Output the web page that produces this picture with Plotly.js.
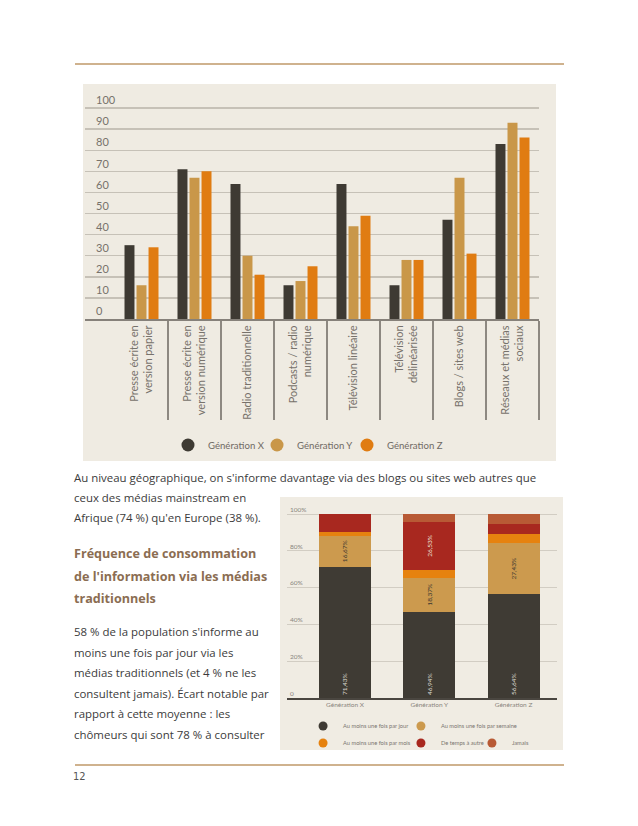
<!DOCTYPE html>
<html>
<head>
<meta charset="utf-8">
<script src="https://cdn.plot.ly/plotly-3.0.1.min.js"></script>
<style>
  html, body { margin:0; padding:0; background:#ffffff; width:638px; height:826px; overflow:hidden; }
  .abs { position:absolute; }
  .rule { position:absolute; background:#cfb28e; height:2px; }
  .txt { position:absolute; font-family:"Open Sans", sans-serif; color:#3b3b3b; white-space:nowrap; font-size:11.45px; }
  .head { position:absolute; font-family:"Open Sans", sans-serif; font-weight:700; color:#8b6d52; white-space:nowrap; font-size:12.6px; }
</style>
</head>
<body>
<div class="rule" style="left:75px; top:63px; width:489px;"></div>
<div id="chart1" class="abs" style="left:83px; top:84px; width:473px; height:377px;"></div>
<div class="txt" style="left:74px; top:468px; line-height:20px;">Au niveau géographique, on s'informe davantage via des blogs ou sites web autres que<br>ceux des médias mainstream en<br>Afrique (74 %) qu'en Europe (38 %).</div>
<div class="head" style="left:74px; top:543px; line-height:22.5px;">Fréquence de consommation<br>de l'information via les médias<br>traditionnels</div>
<div class="txt" style="left:74px; top:622px; line-height:20.6px;">58 % de la population s'informe au<br>moins une fois par jour via les<br>médias traditionnels (et 4 % ne les<br>consultent jamais). Écart notable par<br>rapport à cette moyenne : les<br>chômeurs qui sont 78 % à consulter</div>
<div id="chart2" class="abs" style="left:280px; top:497px; width:283px; height:253px;"></div>
<div class="rule" style="left:75px; top:764px; width:489px;"></div>
<div class="abs" style="left:73px; top:770px; font-family:'DejaVu Sans Condensed', sans-serif; font-size:11px; color:#555;">12</div>

<script>
// ---------- Chart 1 data ----------
const mediaCategories = [
  "Presse écrite en<br>version papier",
  "Presse écrite en<br>version numérique",
  "Radio traditionnelle",
  "Podcasts / radio<br>numérique",
  "Télévision linéaire",
  "Télévision<br>délinéarisée",
  "Blogs / sites web",
  "Réseaux et médias<br>sociaux"
];
const genNames = ["Génération X", "Génération Y", "Génération Z"];
const genXValues = [35, 71, 64, 16, 64, 16, 47, 83];
const genYValues = [16, 67, 30, 18, 44, 28, 67, 93];
const genZValues = [34, 70, 21, 25, 49, 28, 31, 86];
const yTicks1 = [0, 10, 20, 30, 40, 50, 60, 70, 80, 90, 100];

// ---------- Chart 2 data ----------
const generations = ["Génération X", "Génération Y", "Génération Z"];
const freqNames = ["Au moins une fois par jour", "Au moins une fois par semaine", "Au moins une fois par mois", "De temps à autre", "Jamais"];
const dailyValues   = [71.43, 46.94, 56.64];
const weeklyValues  = [16.67, 18.37, 27.43];
const monthlyValues = [2.38, 4.08, 4.87];
const sometimesValues = [9.52, 26.53, 5.75];
const neverValues   = [0, 4.08, 5.31];
const yTicks2 = [0, 20, 40, 60, 80, 100];
const yTickText2 = ["0", "20%", "40%", "60%", "80%", "100%"];

const c1Colors = ["#3e3a33", "#c99749", "#e07c12"];
const c2Colors = ["#3f3b34", "#cc9a4e", "#e6820f", "#a8281f", "#b85a35"];
const fmt = v => v.toFixed(2).replace(".", ",") + "%";
const chartFont = "Lato, 'Open Sans', sans-serif";
const legendId = i => i === 0 ? "legend" : "legend" + (i + 1);

// ---------- Chart 1 ----------
const series1 = [genXValues, genYValues, genZValues];
const traces1 = series1.map((vals, i) => ({
  type: "bar", x: mediaCategories, y: vals, name: genNames[i],
  marker: { color: c1Colors[i] }, showlegend: false, hoverinfo: "none"
}));
genNames.forEach((n, i) => traces1.push({
  type: "scatter", mode: "markers", x: [null], y: [null], name: n,
  marker: { color: c1Colors[i], size: 13, symbol: "circle" }, showlegend: true, hoverinfo: "none",
  legend: legendId(i)
}));

const layout1 = {
  width: 473, height: 377,
  margin: { l: 2, r: 17, t: 3, b: 142, autoexpand: false },
  paper_bgcolor: "#efebe2", plot_bgcolor: "#efebe2",
  barmode: "group", bargap: 0.32, bargroupgap: 0.17,
  font: { family: chartFont, color: "#77726b" },
  xaxis: {
    type: "category", range: [-1.066, 7.5],
    showline: true, linecolor: "#86817a", linewidth: 2,
    ticks: "outside", tickson: "boundaries", ticklen: 99, tickwidth: 1.5, tickcolor: "#8d8881",
    tickangle: -90, ticklabelstandoff: 0,
    tickfont: { size: 11, color: "#77726b", family: chartFont },
    showgrid: false, zeroline: false, fixedrange: true
  },
  yaxis: {
    range: [0, 110], tickvals: yTicks1, ticktext: yTicks1.map(String),
    ticklabelposition: "inside top", ticklabelstandoff: 8,
    tickfont: { size: 11, color: "#77726b", family: chartFont },
    showgrid: true, gridcolor: "#c6c1b7", gridwidth: 1.5,
    zeroline: false, showline: false, ticks: "", fixedrange: true
  },
  showlegend: true
};
const legX1 = [0.1828, 0.3789, 0.5771];
legX1.forEach((x, i) => {
  layout1[legendId(i)] = {
    orientation: "h", x: x, xanchor: "left", y: -0.543, yanchor: "middle", traceorder: "normal",
    font: { size: 9.6, color: "#6f6a64", family: chartFont }, bgcolor: "rgba(0,0,0,0)", itemsizing: "trace"
  };
});
Plotly.newPlot("chart1", traces1, layout1, { displayModeBar: false, staticPlot: true });

// ---------- Chart 2 ----------
const series2 = [dailyValues, weeklyValues, monthlyValues, sometimesValues, neverValues];
const textSpecs = [
  { show: v => true, color: "#dcd8d0", anchor: "start" },
  { show: v => true, color: "#3a3630", anchor: "middle" },
  { show: v => false, color: "#fff", anchor: "middle" },
  { show: v => v > 20, color: "#ece4da", anchor: "middle" },
  { show: v => false, color: "#fff", anchor: "middle" }
];
const traces2 = series2.map((vals, i) => ({
  type: "bar", x: generations, y: vals, name: freqNames[i],
  marker: { color: c2Colors[i] }, showlegend: false, hoverinfo: "none",
  text: vals.map(v => textSpecs[i].show(v) ? fmt(v) : ""),
  textposition: "inside", insidetextanchor: textSpecs[i].anchor,
  textangle: -90, constraintext: "none",
  textfont: { size: 6.5, color: textSpecs[i].color, family: chartFont }
}));
freqNames.forEach((n, i) => traces2.push({
  type: "scatter", mode: "markers", x: [null], y: [null], name: n,
  marker: { color: c2Colors[i], size: 9, symbol: "circle" }, showlegend: true, hoverinfo: "none",
  legend: legendId(i)
}));

const layout2 = {
  width: 283, height: 253,
  margin: { l: 7, r: 6, t: 6, b: 52, autoexpand: false },
  paper_bgcolor: "#f0ece3", plot_bgcolor: "#f0ece3",
  barmode: "stack", bargap: 0.383,
  font: { family: chartFont, color: "#8a857e" },
  xaxis: {
    type: "category", range: [-0.688, 2.516],
    showline: true, linecolor: "#4a4640", linewidth: 1.5,
    ticks: "", tickfont: { size: 6.5, color: "#8a857e", family: chartFont },
    showgrid: false, zeroline: false, fixedrange: true
  },
  yaxis: {
    range: [0, 106], tickvals: yTicks2, ticktext: yTickText2,
    ticklabelposition: "inside top", ticklabelstandoff: 0,
    tickfont: { size: 6.5, color: "#8a857e", family: chartFont },
    showgrid: true, gridcolor: "#d2cdc3", gridwidth: 1,
    zeroline: false, showline: false, ticks: "", fixedrange: true
  },
  showlegend: true
};
const legPos2 = [[0.0815, -0.1436], [0.444, -0.1436], [0.0815, -0.2308], [0.444, -0.2308], [0.707, -0.2308]];
legPos2.forEach((p, i) => {
  layout2[legendId(i)] = {
    orientation: "h", x: p[0] - 0.022, xanchor: "left", y: p[1], yanchor: "middle", traceorder: "normal",
    font: { size: 5.7, color: "#7a756f", family: chartFont }, bgcolor: "rgba(0,0,0,0)", itemsizing: "trace"
  };
});
Plotly.newPlot("chart2", traces2, layout2, { displayModeBar: false, staticPlot: true });
</script>
</body>
</html>
